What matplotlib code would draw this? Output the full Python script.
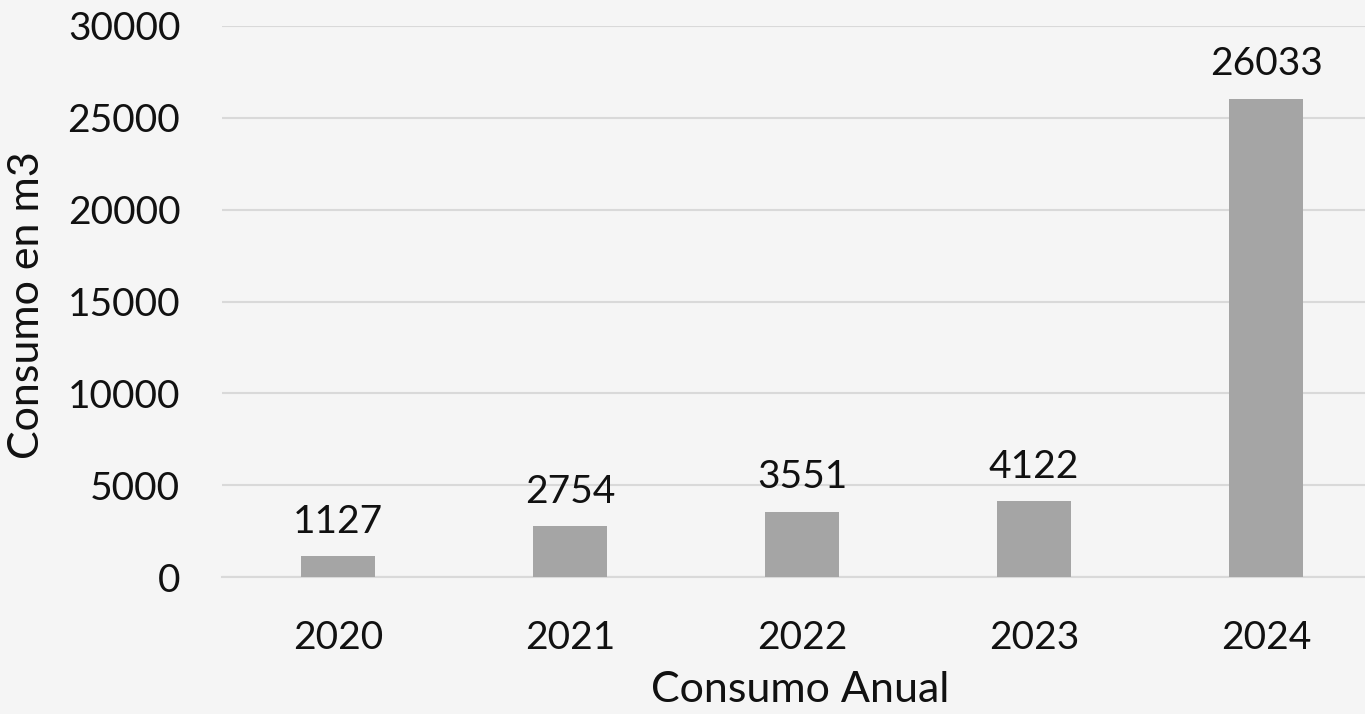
import matplotlib
matplotlib.use("Agg")
import matplotlib.pyplot as plt

years = ["2020", "2021", "2022", "2023", "2024"]
consumo = [1127, 2754, 3551, 4122, 26033]
yticks = [0, 5000, 10000, 15000, 20000, 25000, 30000]

plt.rcParams['font.family'] = ['Lato', 'DejaVu Sans']

fig = plt.figure(figsize=(13.65, 7.14), dpi=100)
fig.patch.set_facecolor('#f5f5f5')
ax = fig.add_axes([222/1365, 1-577/714, 1160/1365, (577-26)/714])
ax.set_facecolor('none')

x = list(range(len(years)))
bars = ax.bar(x, consumo, width=0.315, color='#a5a5a5', zorder=3)
for xi, v in zip(x, consumo):
    ax.annotate(str(v), (xi, v), xytext=(0, 12), textcoords='offset points',
                ha='center', va='bottom', fontsize=28, color='#111111')

ax.set_xlim(-0.5, 4.5)
ax.set_ylim(0, 30000)
ax.set_yticks(yticks)
ax.set_yticklabels([str(t) for t in yticks])
ax.set_xticks(x)
ax.set_xticklabels(years)
ax.yaxis.grid(True, color='#d9d9d9', linewidth=1.5, zorder=0)
ax.tick_params(axis='both', length=0, labelsize=28, colors='#111111')
ax.tick_params(axis='y', pad=30)
ax.tick_params(axis='x', pad=31)
for s in ['top', 'right', 'left']:
    ax.spines[s].set_visible(False)
ax.spines['bottom'].set_color('#d9d9d9')
ax.spines['bottom'].set_linewidth(1.5)

ax.set_xlabel('Consumo Anual', fontsize=31, color='#111111')
ax.set_ylabel('Consumo en m3', fontsize=31, color='#111111')
ax.xaxis.set_label_coords((800-222)/1160, -(671-577)/551)
ax.yaxis.set_label_coords(-(222-46)/1160, (577-305)/551)

fig.savefig('out.png', dpi=100, facecolor=fig.get_facecolor())
